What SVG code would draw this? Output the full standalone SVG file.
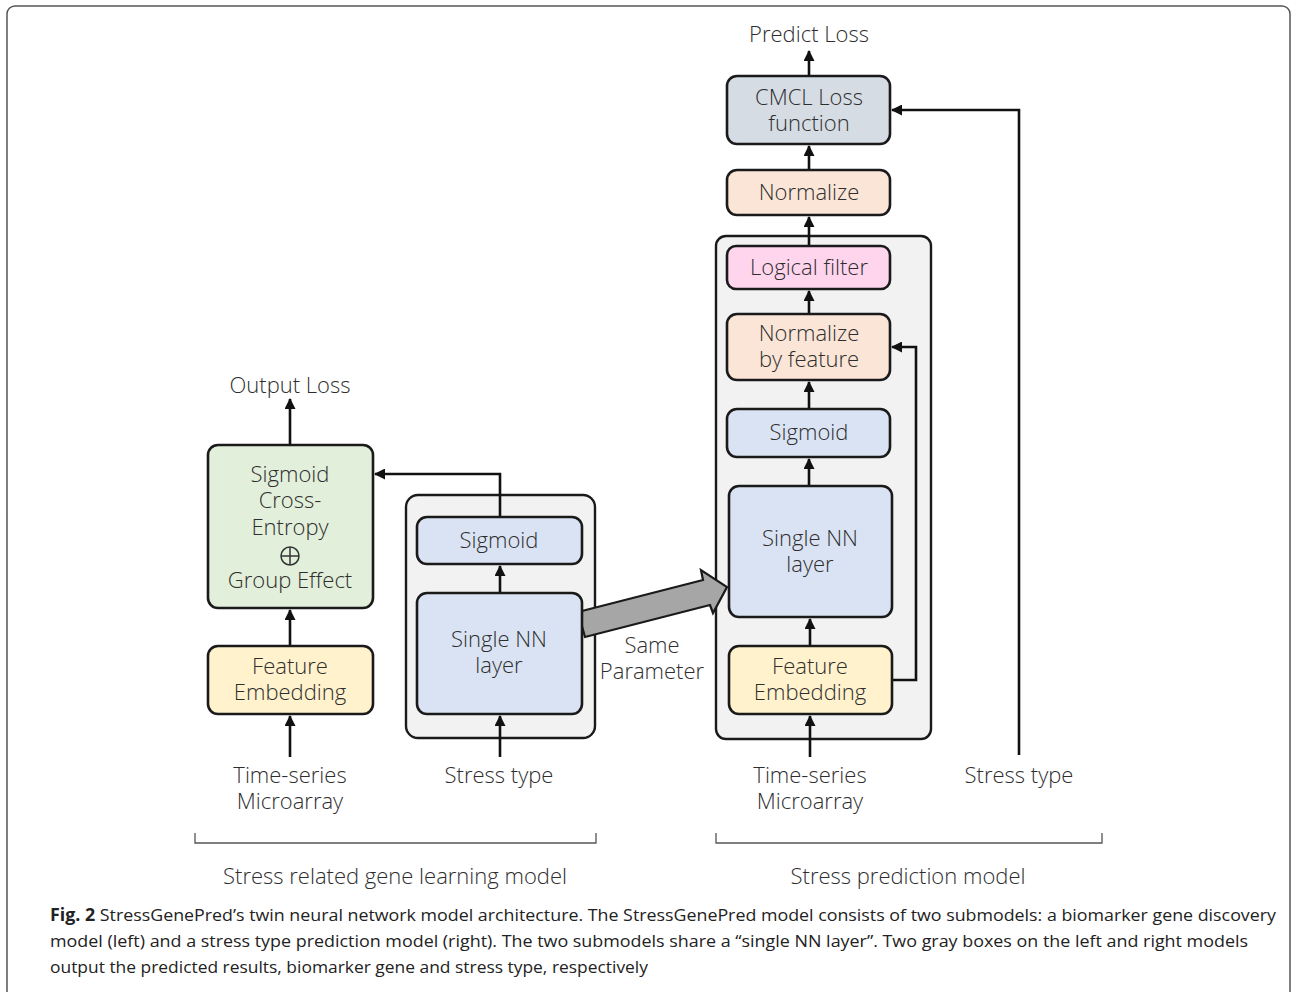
<svg xmlns="http://www.w3.org/2000/svg" width="1292" height="992" viewBox="0 0 1292 992">
<defs>
<marker id="ah" markerUnits="userSpaceOnUse" markerWidth="11" markerHeight="11" refX="10" refY="5.5" orient="auto">
<path d="M0,0 L11,5.5 L0,11 z" fill="#111"/>
</marker>
<style>
.t{font-family:"Open Sans","Noto Sans",sans-serif;font-weight:300;font-size:22px;fill:#2e2e2e;text-anchor:middle}
.box{stroke:#1a1a1a;stroke-width:2.6}
.c{fill:none;stroke:#111;stroke-width:2.6;marker-end:url(#ah)}
.grp{fill:#f2f2f2;stroke:#1a1a1a;stroke-width:2.4}
.cap{font-family:"Open Sans","Noto Sans",sans-serif;font-size:17px;fill:#222}
</style>
</defs>
<rect x="0" y="0" width="1292" height="992" fill="#fff"/>
<rect x="7" y="6" width="1283" height="1000" rx="8" fill="none" stroke="#555" stroke-width="1.5"/>

<g id="group-left"><rect class="grp" x="406" y="495" width="189" height="243" rx="12"/></g>
<g id="group-right"><rect class="grp" x="716" y="236" width="215" height="503" rx="10"/></g>

<g id="connectors">
<line class="c" x1="290" y1="444" x2="290" y2="399"/>
<line class="c" x1="290" y1="645" x2="290" y2="610"/>
<line class="c" x1="290" y1="757" x2="290" y2="716"/>
<line class="c" x1="500" y1="592" x2="500" y2="566"/>
<line class="c" x1="500" y1="757" x2="500" y2="716"/>
<polyline class="c" points="500,517 500,474 375,474"/>
<line class="c" x1="809" y1="75" x2="809" y2="51"/>
<line class="c" x1="809" y1="169" x2="809" y2="146"/>
<line class="c" x1="809" y1="245" x2="809" y2="217"/>
<line class="c" x1="809" y1="313" x2="809" y2="291"/>
<line class="c" x1="809" y1="408" x2="809" y2="382"/>
<line class="c" x1="809" y1="485" x2="809" y2="459"/>
<line class="c" x1="810" y1="645" x2="810" y2="619"/>
<line class="c" x1="810" y1="757" x2="810" y2="716"/>
<polyline class="c" points="892,680 916,680 916,347 892,347"/>
<polyline class="c" points="1019,755 1019,110 892,110"/>
<polygon points="578,612 703,580 701,570 727,587 713,613 710,605 585,637" fill="#a6a6a6" stroke="#1a1a1a" stroke-width="2.2" stroke-linejoin="miter"/>
<polyline points="195,833 195,843 596,843 596,833" fill="none" stroke="#555" stroke-width="1.3"/>
<polyline points="716,833 716,843 1102,843 1102,833" fill="none" stroke="#555" stroke-width="1.3"/>
</g>

<g id="n-output-loss"><text class="t" x="290" y="393">Output Loss</text></g>
<g id="n-sce">
<rect class="box" x="208" y="445" width="165" height="163" rx="10" fill="#e2efda"/>
<text class="t" x="290" y="482">Sigmoid</text>
<text class="t" x="290" y="508">Cross-</text>
<text class="t" x="290" y="535">Entropy</text>
<circle cx="290" cy="556" r="9" fill="none" stroke="#333" stroke-width="1.5"/>
<line x1="281" y1="556" x2="299" y2="556" stroke="#333" stroke-width="1.5"/>
<line x1="290" y1="547" x2="290" y2="565" stroke="#333" stroke-width="1.5"/>
<text class="t" x="290" y="588">Group Effect</text>
</g>
<g id="n-fe-left">
<rect class="box" x="208" y="646" width="165" height="68" rx="10" fill="#fff2cc"/>
<text class="t" x="290" y="674">Feature</text>
<text class="t" x="290" y="700">Embedding</text>
</g>
<g id="n-ts-left"><text class="t" x="290" y="783">Time-series</text><text class="t" x="290" y="809">Microarray</text></g>
<g id="n-sig-left">
<rect class="box" x="417" y="517" width="165" height="47" rx="10" fill="#dae3f3"/>
<text class="t" x="499" y="548">Sigmoid</text>
</g>
<g id="n-nn-left">
<rect class="box" x="417" y="593" width="165" height="121" rx="10" fill="#dae3f3"/>
<text class="t" x="499" y="647">Single NN</text>
<text class="t" x="499" y="673">layer</text>
</g>
<g id="n-st-left"><text class="t" x="499" y="783">Stress type</text></g>
<g id="n-same"><text class="t" x="652" y="653">Same</text><text class="t" x="652" y="679">Parameter</text></g>

<g id="n-predict-loss"><text class="t" x="809" y="42">Predict Loss</text></g>
<g id="n-cmcl">
<rect class="box" x="727" y="76" width="163" height="68" rx="10" fill="#d6dce4"/>
<text class="t" x="809" y="105">CMCL Loss</text>
<text class="t" x="809" y="131">function</text>
</g>
<g id="n-normalize">
<rect class="box" x="727" y="170" width="163" height="45" rx="10" fill="#fbe5d6"/>
<text class="t" x="809" y="200">Normalize</text>
</g>
<g id="n-logical">
<rect class="box" x="727" y="246" width="163" height="43" rx="9" fill="#ffd5ee"/>
<text class="t" x="809" y="275">Logical filter</text>
</g>
<g id="n-normfeat">
<rect class="box" x="727" y="314" width="163" height="66" rx="10" fill="#fbe5d6"/>
<text class="t" x="809" y="341">Normalize</text>
<text class="t" x="809" y="367">by feature</text>
</g>
<g id="n-sig-right">
<rect class="box" x="727" y="409" width="163" height="48" rx="10" fill="#dae3f3"/>
<text class="t" x="809" y="440">Sigmoid</text>
</g>
<g id="n-nn-right">
<rect class="box" x="729" y="486" width="163" height="131" rx="10" fill="#dae3f3"/>
<text class="t" x="810" y="546">Single NN</text>
<text class="t" x="810" y="572">layer</text>
</g>
<g id="n-fe-right">
<rect class="box" x="729" y="646" width="163" height="68" rx="10" fill="#fff2cc"/>
<text class="t" x="810" y="674">Feature</text>
<text class="t" x="810" y="700">Embedding</text>
</g>
<g id="n-ts-right"><text class="t" x="810" y="783">Time-series</text><text class="t" x="810" y="809">Microarray</text></g>
<g id="n-st-right"><text class="t" x="1019" y="783">Stress type</text></g>

<g id="labels">
<text class="t" x="395" y="884">Stress related gene learning model</text>
<text class="t" x="908" y="884">Stress prediction model</text>
</g>

<g id="caption">
<text class="cap" x="50" y="921" textLength="1226" lengthAdjust="spacingAndGlyphs"><tspan font-weight="700">Fig. 2</tspan> StressGenePred’s twin neural network model architecture. The StressGenePred model consists of two submodels: a biomarker gene discovery</text>
<text class="cap" x="50" y="947" textLength="1198" lengthAdjust="spacingAndGlyphs">model (left) and a stress type prediction model (right). The two submodels share a “single NN layer”. Two gray boxes on the left and right models</text>
<text class="cap" x="50" y="973" textLength="598" lengthAdjust="spacingAndGlyphs">output the predicted results, biomarker gene and stress type, respectively</text>
</g>
</svg>
